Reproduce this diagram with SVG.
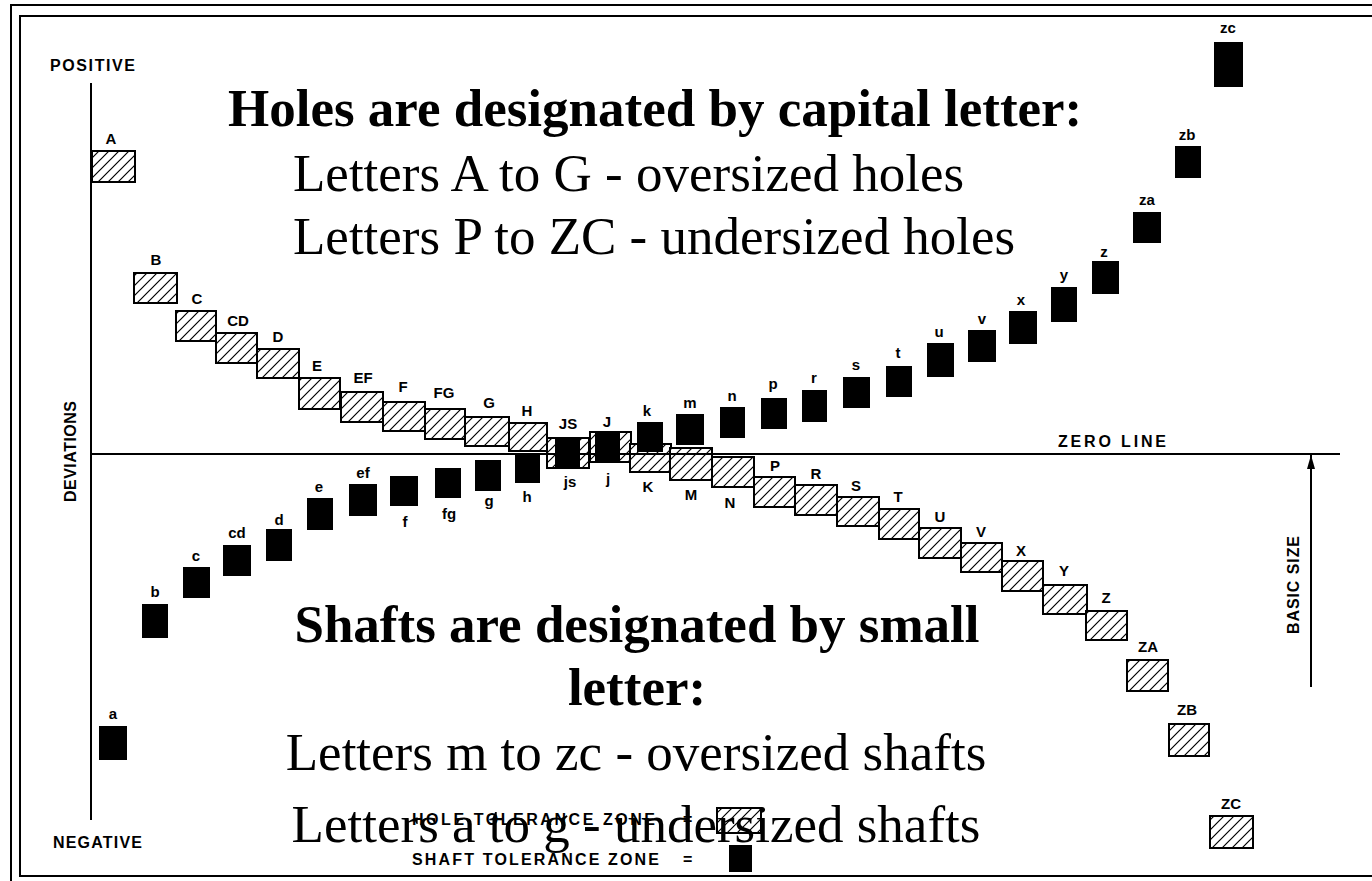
<svg xmlns="http://www.w3.org/2000/svg" width="1372" height="881" viewBox="0 0 1372 881">
<style>
.h{fill:url(#hatch);stroke:#000;stroke-width:2}
.s{fill:#000}
.lb{font-family:"Liberation Sans",Arial,sans-serif;font-weight:bold;font-size:15px;text-anchor:middle;fill:#000}
.cap{font-family:"Liberation Sans",Arial,sans-serif;font-weight:bold;font-size:16px;fill:#000}
.big{font-family:"Liberation Serif","Times New Roman",serif;font-size:53px;fill:#000}
.bold{font-weight:bold}
.ln{fill:none;stroke:#000;stroke-width:2}
</style>
<defs>
<pattern id="hatch" patternUnits="userSpaceOnUse" width="10" height="10">
<rect width="10" height="10" fill="#fff"/>
<path d="M-1,11 L11,-1 M-6,6 L6,-6 M4,16 L16,4" stroke="#000" stroke-width="1.2"/>
</pattern>
<marker id="arr" markerWidth="14" markerHeight="8" refX="14" refY="4" orient="auto" markerUnits="userSpaceOnUse" viewBox="0 0 14 8">
<path d="M14,4 L0,0 L0,8 Z" fill="#000"/>
</marker>
</defs>
<rect width="1372" height="881" fill="#fff"/>
<g id="frame">
<path class="ln" d="M1372,5 H11 V881" stroke-width="1.5"/>
<path class="ln" d="M1372,16 H20 V876 H1372" stroke-width="2"/>
</g>
<g id="axis-labels">
<text class="cap" x="50" y="71" textLength="85">POSITIVE</text>
<text class="cap" x="53" y="848" textLength="89">NEGATIVE</text>
<text class="cap" transform="translate(76,502) rotate(-90)" textLength="101">DEVIATIONS</text>
<text class="cap" x="1058" y="447" textLength="108">ZERO LINE</text>
<text class="cap" transform="translate(1299,634) rotate(-90)" textLength="98">BASIC SIZE</text>
</g>
<g id="holes">
<g id="hole-A"><rect class="h" x="92" y="151" width="43" height="31"/><text class="lb" x="111" y="144">A</text></g>
<g id="hole-B"><rect class="h" x="134" y="273" width="43" height="30"/><text class="lb" x="156" y="265">B</text></g>
<g id="hole-C"><rect class="h" x="176" y="311" width="40" height="30"/><text class="lb" x="197" y="304">C</text></g>
<g id="hole-CD"><rect class="h" x="216" y="333" width="41" height="30"/><text class="lb" x="238" y="326">CD</text></g>
<g id="hole-D"><rect class="h" x="257" y="349" width="42" height="29"/><text class="lb" x="278" y="342">D</text></g>
<g id="hole-E"><rect class="h" x="299" y="378" width="41" height="31"/><text class="lb" x="317" y="371">E</text></g>
<g id="hole-EF"><rect class="h" x="341" y="392" width="42" height="30"/><text class="lb" x="363" y="383">EF</text></g>
<g id="hole-F"><rect class="h" x="383" y="402" width="42" height="29"/><text class="lb" x="403" y="392">F</text></g>
<g id="hole-FG"><rect class="h" x="425" y="409" width="40" height="30"/><text class="lb" x="444" y="398">FG</text></g>
<g id="hole-G"><rect class="h" x="465" y="417" width="44" height="29"/><text class="lb" x="489" y="408">G</text></g>
<g id="hole-H"><rect class="h" x="509" y="423" width="38" height="28"/><text class="lb" x="527" y="416">H</text></g>
<g id="hole-JS"><rect class="h" x="547" y="438" width="42" height="30"/><text class="lb" x="568" y="429">JS</text></g>
<g id="hole-J"><rect class="h" x="590" y="432" width="41" height="30"/><text class="lb" x="607" y="427">J</text></g>
<g id="hole-K"><rect class="h" x="630" y="444" width="41" height="28"/><text class="lb" x="648" y="492">K</text></g>
<g id="hole-M"><rect class="h" x="670" y="448" width="42" height="32"/><text class="lb" x="691" y="500">M</text></g>
<g id="hole-N"><rect class="h" x="712" y="457" width="42" height="30"/><text class="lb" x="730" y="508">N</text></g>
<g id="hole-P"><rect class="h" x="754" y="477" width="41" height="30"/><text class="lb" x="775" y="471">P</text></g>
<g id="hole-R"><rect class="h" x="795" y="485" width="42" height="30"/><text class="lb" x="816" y="479">R</text></g>
<g id="hole-S"><rect class="h" x="837" y="497" width="42" height="29"/><text class="lb" x="856" y="491">S</text></g>
<g id="hole-T"><rect class="h" x="879" y="509" width="40" height="30"/><text class="lb" x="898" y="502">T</text></g>
<g id="hole-U"><rect class="h" x="919" y="528" width="42" height="30"/><text class="lb" x="940" y="522">U</text></g>
<g id="hole-V"><rect class="h" x="961" y="543" width="41" height="29"/><text class="lb" x="981" y="537">V</text></g>
<g id="hole-X"><rect class="h" x="1002" y="561" width="41" height="30"/><text class="lb" x="1021" y="556">X</text></g>
<g id="hole-Y"><rect class="h" x="1043" y="585" width="44" height="29"/><text class="lb" x="1064" y="576">Y</text></g>
<g id="hole-Z"><rect class="h" x="1086" y="611" width="41" height="29"/><text class="lb" x="1106" y="603">Z</text></g>
<g id="hole-ZA"><rect class="h" x="1127" y="660" width="41" height="31"/><text class="lb" x="1148" y="652">ZA</text></g>
<g id="hole-ZB"><rect class="h" x="1169" y="724" width="40" height="32"/><text class="lb" x="1187" y="715">ZB</text></g>
<g id="hole-ZC"><rect class="h" x="1210" y="816" width="43" height="32"/><text class="lb" x="1231" y="809">ZC</text></g>
</g>
<g id="connectors">
<line class="ln" x1="91" y1="83" x2="91" y2="820" stroke-width="2"/>
<line class="ln" x1="91" y1="454" x2="1340" y2="454" stroke-width="1.8"/>
<line class="ln" x1="1311" y1="687" x2="1311" y2="455" stroke-width="1.8" marker-end="url(#arr)"/>
</g>
<g id="shafts">
<g id="shaft-a"><rect class="s" x="99" y="726" width="28" height="34"/><text class="lb" x="113" y="719">a</text></g>
<g id="shaft-b"><rect class="s" x="142" y="604" width="26" height="34"/><text class="lb" x="155" y="597">b</text></g>
<g id="shaft-c"><rect class="s" x="183" y="567" width="27" height="31"/><text class="lb" x="196" y="561">c</text></g>
<g id="shaft-cd"><rect class="s" x="223" y="545" width="28" height="31"/><text class="lb" x="237" y="538">cd</text></g>
<g id="shaft-d"><rect class="s" x="266" y="529" width="26" height="32"/><text class="lb" x="279" y="525">d</text></g>
<g id="shaft-e"><rect class="s" x="307" y="498" width="26" height="32"/><text class="lb" x="319" y="492">e</text></g>
<g id="shaft-ef"><rect class="s" x="349" y="484" width="28" height="32"/><text class="lb" x="363" y="478">ef</text></g>
<g id="shaft-f"><rect class="s" x="390" y="476" width="28" height="30"/><text class="lb" x="405" y="527">f</text></g>
<g id="shaft-fg"><rect class="s" x="435" y="468" width="26" height="30"/><text class="lb" x="449" y="519">fg</text></g>
<g id="shaft-g"><rect class="s" x="475" y="460" width="26" height="31"/><text class="lb" x="489" y="506">g</text></g>
<g id="shaft-h"><rect class="s" x="515" y="453" width="25" height="30"/><text class="lb" x="527" y="502">h</text></g>
<g id="shaft-js"><rect class="s" x="555" y="438" width="25" height="30"/><text class="lb" x="570" y="487">js</text></g>
<g id="shaft-j"><rect class="s" x="595" y="433" width="25" height="30"/><text class="lb" x="608" y="484">j</text></g>
<g id="shaft-k"><rect class="s" x="637" y="422" width="26" height="30"/><text class="lb" x="647" y="416">k</text></g>
<g id="shaft-m"><rect class="s" x="676" y="414" width="28" height="31"/><text class="lb" x="690" y="408">m</text></g>
<g id="shaft-n"><rect class="s" x="720" y="407" width="25" height="31"/><text class="lb" x="732" y="401">n</text></g>
<g id="shaft-p"><rect class="s" x="761" y="398" width="26" height="31"/><text class="lb" x="773" y="389">p</text></g>
<g id="shaft-r"><rect class="s" x="802" y="390" width="25" height="32"/><text class="lb" x="814" y="383">r</text></g>
<g id="shaft-s"><rect class="s" x="843" y="377" width="27" height="31"/><text class="lb" x="856" y="370">s</text></g>
<g id="shaft-t"><rect class="s" x="886" y="366" width="26" height="31"/><text class="lb" x="898" y="358">t</text></g>
<g id="shaft-u"><rect class="s" x="927" y="343" width="27" height="34"/><text class="lb" x="939" y="337">u</text></g>
<g id="shaft-v"><rect class="s" x="968" y="330" width="28" height="32"/><text class="lb" x="982" y="324">v</text></g>
<g id="shaft-x"><rect class="s" x="1009" y="311" width="28" height="33"/><text class="lb" x="1021" y="305">x</text></g>
<g id="shaft-y"><rect class="s" x="1051" y="287" width="26" height="35"/><text class="lb" x="1064" y="280">y</text></g>
<g id="shaft-z"><rect class="s" x="1092" y="261" width="27" height="33"/><text class="lb" x="1104" y="257">z</text></g>
<g id="shaft-za"><rect class="s" x="1133" y="212" width="28" height="31"/><text class="lb" x="1147" y="205">za</text></g>
<g id="shaft-zb"><rect class="s" x="1175" y="146" width="26" height="32"/><text class="lb" x="1187" y="140">zb</text></g>
<g id="shaft-zc"><rect class="s" x="1214" y="42" width="29" height="45"/><text class="lb" x="1228" y="33">zc</text></g>
</g>
<g id="legend">
<text class="cap" x="412" y="825" textLength="243">HOLE TOLERANCE ZONE</text>
<text class="cap" x="683" y="825">=</text>
<rect class="h" x="717" y="808" width="44" height="25" stroke-width="1.5"/>
<text class="cap" x="412" y="865" textLength="247">SHAFT TOLERANCE ZONE</text>
<text class="cap" x="683" y="865">=</text>
<rect class="s" x="729" y="845" width="23" height="27"/>
</g>
<g id="holes-note">
<text class="big bold" x="228" y="126">Holes are designated by capital letter:</text>
<text class="big" x="293" y="191">Letters A to G - oversized holes</text>
<text class="big" x="293" y="254">Letters P to ZC - undersized holes</text>
</g>
<g id="shafts-note">
<text class="big bold" x="637" y="642" text-anchor="middle">Shafts are designated by small</text>
<text class="big bold" x="637" y="705" text-anchor="middle">letter:</text>
<text class="big" x="636" y="770" text-anchor="middle">Letters m to zc - oversized shafts</text>
<text class="big" x="636" y="842" text-anchor="middle">Letters a to g - undersized shafts</text>
</g>
</svg>
